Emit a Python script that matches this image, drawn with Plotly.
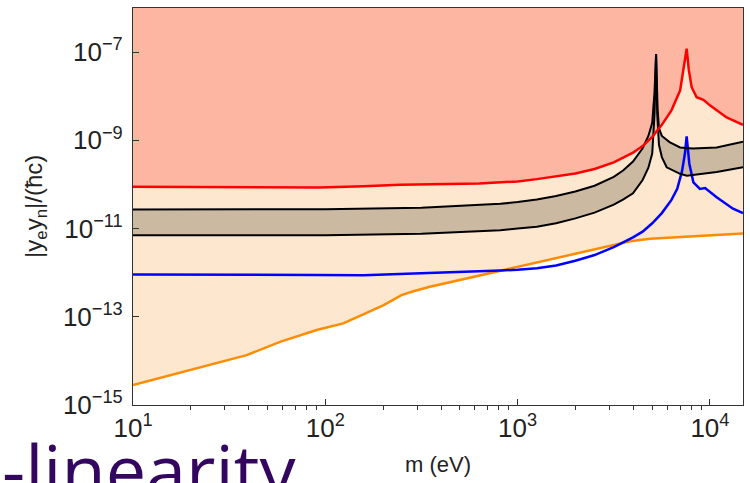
import plotly.graph_objects as go

# ---------------- data ----------------
red_m = [10, 31.6, 93.3, 158, 245, 631, 813, 1000, 1259, 1585, 1995, 2512, 3162, 3981, 4467,
         5012, 5623, 6310, 6998, 7129, 7413, 7568, 7762, 8035, 8531, 9247, 10000, 12218, 14859]
red_y = [8.9e-11, 8.6e-11, 8.5e-11, 9.1e-11, 9.8e-11, 1.05e-10, 1.12e-10, 1.17e-10, 1.32e-10,
         1.51e-10, 1.78e-10, 2.24e-10, 3.16e-10, 5.25e-10, 7.41e-10, 1.20e-9, 2.24e-9, 4.79e-9,
         1.35e-8, 2.24e-8, 6.3e-8, 1.2e-7, 4.0e-8, 1.6e-8, 9.5e-9, 8.3e-9, 6.2e-9, 3.3e-9, 2.24e-9]

blk_up_m = [10, 100, 316, 631, 813, 1000, 1259, 1585, 1995, 2512, 3162, 3548, 3981, 4467, 4786,
            5012, 5152, 5248, 5346, 5433, 5623, 6166, 6998, 8128, 10839, 14859]
blk_up_y = [2.69e-11, 2.75e-11, 2.95e-11, 3.39e-11, 3.63e-11, 3.98e-11, 4.57e-11, 5.50e-11,
            6.92e-11, 9.33e-11, 1.48e-10, 2.09e-10, 3.31e-10, 6.61e-10, 1.26e-9, 2.51e-9,
            1.26e-8, 9.1e-8, 5.0e-9, 1.9e-9, 1.26e-9, 9.1e-10, 6.9e-10, 6.5e-10, 6.9e-10, 9.3e-10]

blk_lo_m = [10, 100, 316, 631, 813, 1000, 1259, 1585, 1995, 2512, 3162, 3548, 3981, 4467, 4786,
            5012, 5152, 5248, 5321, 5433, 5623, 5957, 6998, 7586, 8872, 10839, 14859]
blk_lo_y = [7.08e-12, 7.08e-12, 7.59e-12, 8.91e-12, 9.12e-12, 1.0e-11, 1.10e-11, 1.32e-11,
            1.70e-11, 2.29e-11, 3.47e-11, 4.57e-11, 6.31e-11, 1.26e-10, 2.40e-10, 5.01e-10,
            3.98e-9, 9.1e-8, 3.98e-9, 7.94e-10, 4.17e-10, 2.45e-10, 1.74e-10, 1.58e-10,
            1.70e-10, 1.91e-10, 2.45e-10]

blue_m = [10, 31.6, 89.1, 158, 316, 813, 1000, 1259, 1585, 1995, 2512, 3162, 3981, 4467, 5012,
          5623, 6310, 6761, 7161, 7413, 7568, 7816, 8204, 8872, 9441, 10839, 13183, 14859]
blue_y = [9.12e-13, 9.12e-13, 8.91e-13, 8.71e-13, 9.55e-13, 1.12e-12, 1.17e-12, 1.26e-12,
          1.45e-12, 1.86e-12, 2.51e-12, 3.80e-12, 6.31e-12, 8.51e-12, 1.32e-11, 2.24e-11,
          4.47e-11, 7.94e-11, 2.0e-10, 5.01e-10, 1.23e-9, 2.95e-10, 1.12e-10, 7.94e-11,
          8.32e-11, 5.13e-11, 2.82e-11, 2.24e-11]

orange_m = [10, 19.8, 39.0, 58.1, 90.2, 124, 200, 249, 287, 350, 1000, 3846, 4887, 14859]
orange_y = [2.82e-15, 6.17e-15, 1.35e-14, 2.69e-14, 5.01e-14, 7.08e-14, 1.82e-13, 3.09e-13,
            3.80e-13, 4.79e-13, 1.35e-12, 5.13e-12, 5.89e-12, 7.76e-12]

x_range = [10, 14859]
y_top = 1e-6

x_tickvals = [10, 100, 1000, 10000]
x_ticktext = ["10<sup>1</sup>", "10<sup>2</sup>", "10<sup>3</sup>", "10<sup>4</sup>"]
y_tickvals = [1e-15, 1e-13, 1e-11, 1e-9, 1e-7]
y_ticktext = ["10<sup>\u221215</sup>", "10<sup>\u221213</sup>", "10<sup>\u221211</sup>",
              "10<sup>\u22129</sup>", "10<sup>\u22127</sup>"]
x_minor = [k * 10 ** e for e in (1, 2, 3) for k in range(2, 10)]

SALMON = "#FCB6A1"
PEACH = "#FDE7CE"
TAN = "#CCB9A2"

fig = go.Figure()

# peach region above orange line
fig.add_trace(go.Scatter(
    x=orange_m + [x_range[1], x_range[0]],
    y=orange_y + [y_top, y_top],
    fill="toself", fillcolor=PEACH, mode="none", hoverinfo="skip"))

# salmon region above red line
fig.add_trace(go.Scatter(
    x=red_m + [x_range[1], x_range[0]],
    y=red_y + [y_top, y_top],
    fill="toself", fillcolor=SALMON, mode="none", hoverinfo="skip"))

# tan band between black lines
fig.add_trace(go.Scatter(
    x=blk_up_m + blk_lo_m[::-1],
    y=blk_up_y + blk_lo_y[::-1],
    fill="toself", fillcolor=TAN, mode="none", hoverinfo="skip"))

fig.add_trace(go.Scatter(x=orange_m, y=orange_y, mode="lines",
                         line=dict(color="#FF8C00", width=2.5)))
fig.add_trace(go.Scatter(x=blue_m, y=blue_y, mode="lines",
                         line=dict(color="#0000FF", width=2.5)))
fig.add_trace(go.Scatter(x=blk_up_m, y=blk_up_y, mode="lines",
                         line=dict(color="#000000", width=2)))
fig.add_trace(go.Scatter(x=blk_lo_m, y=blk_lo_y, mode="lines",
                         line=dict(color="#000000", width=2)))
fig.add_trace(go.Scatter(x=red_m, y=red_y, mode="lines",
                         line=dict(color="#FF0000", width=2.5)))

axis_font = dict(family="Liberation Sans, Arial, sans-serif", size=26, color="#222")

fig.update_xaxes(
    type="log", range=[1, 4.172],
    tickvals=x_tickvals, ticktext=x_ticktext,
    ticks="inside", ticklen=6, tickwidth=1, tickcolor="#333",
    minor=dict(tickvals=x_minor, ticks="outside", ticklen=4, tickwidth=1, tickcolor="#333"),
    showline=True, linecolor="#333", linewidth=1.2, mirror=True,
    showgrid=False, zeroline=False, tickfont=axis_font)
fig.update_yaxes(
    type="log", range=[-15, -6],
    tickvals=y_tickvals, ticktext=y_ticktext,
    ticks="inside", ticklen=6, tickwidth=1, tickcolor="#333",
    showline=True, linecolor="#333", linewidth=1.2, mirror=True,
    showgrid=False, zeroline=False, tickfont=axis_font, ticklabelstandoff=4)

fig.update_layout(
    width=750, height=483,
    margin=dict(l=133, r=7, t=8, b=78),
    paper_bgcolor="white", plot_bgcolor="white",
    showlegend=False,
    annotations=[
        dict(text="|y<sub>e</sub>y<sub>n</sub>|/(\u0127c)", xref="paper", yref="paper",
             x=-0.16, y=0.5, textangle=-90, showarrow=False,
             font=dict(family="Liberation Sans, Arial, sans-serif", size=24, color="#222"),
             xanchor="center", yanchor="middle"),
        dict(text="m (eV)", xref="paper", yref="paper", x=0.5, y=-0.151,
             showarrow=False, xanchor="center", yanchor="middle",
             font=dict(family="Liberation Sans, Arial, sans-serif", size=22, color="#222")),
        dict(text="-linearity", xref="paper", yref="paper", x=-0.218, y=-0.033,
             showarrow=False, xanchor="left", yanchor="top",
             font=dict(family="Open Sans, sans-serif", size=72, color="#33075F")),
    ],
)

fig.write_html("out.html")
